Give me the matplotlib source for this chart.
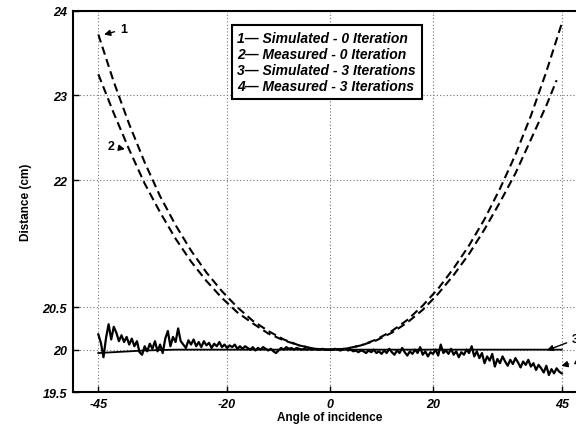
import numpy as np
import matplotlib
matplotlib.use("Agg")
import matplotlib.pyplot as plt

plt.rcParams['font.family'] = ['Liberation Sans', 'DejaVu Sans']

# Curve 1 - simulated, 0 iteration
sim0_x = [-45, -42, -39, -36, -33, -30, -27, -24, -21, -18, -15, -12, -9, -6, -3, 0,
          3, 6, 9, 12, 15, 18, 21, 24, 27, 30, 33, 36, 39, 42, 45]
sim0_y = [23.72, 23.16, 22.66, 22.21, 21.81, 21.47, 21.17, 20.91, 20.69, 20.50, 20.34,
          20.22, 20.12, 20.05, 20.01, 20.00,
          20.01, 20.05, 20.12, 20.22, 20.35, 20.52, 20.72, 20.96, 21.23, 21.54, 21.90,
          22.30, 22.76, 23.28, 23.85]

# Curve 2 - measured, 0 iteration
meas0_x = [-45, -42, -39, -36, -33, -30, -27, -24, -21, -18, -15, -12, -9, -6, -3, 0,
           3, 6, 9, 12, 15, 18, 21, 24, 27, 30, 33, 36, 39, 42, 44]
meas0_y = [23.25, 22.79, 22.36, 21.96, 21.62, 21.31, 21.04, 20.81, 20.61, 20.44, 20.31,
           20.19, 20.11, 20.05, 20.01, 20.00,
           20.01, 20.05, 20.11, 20.20, 20.32, 20.47, 20.66, 20.88, 21.13, 21.42, 21.74,
           22.08, 22.48, 22.88, 23.18]

# Curve 3 - simulated, 3 iterations
sim3_x = [-45, -42, -39, -36, -30, -20, -10, 0, 10, 20, 30, 40, 45]
sim3_y = [19.96, 19.97, 19.98, 19.99, 20.0, 20.0, 20.0, 20.0, 20.0, 20.0, 20.0, 20.0, 20.0]

# Curve 4 - measured, 3 iterations (every 0.5 degree from -45 to 45)
meas3_y = [
    20.18, 20.08, 19.91, 20.14, 20.30, 20.12, 20.27, 20.20, 20.10, 20.17,
    20.09, 20.15, 20.06, 20.13, 20.04, 20.10, 19.97, 19.94, 20.04, 19.98,
    20.07, 20.01, 20.10, 19.98, 20.06, 19.96, 20.13, 20.22, 20.04, 20.15,
    20.09, 20.25, 20.10, 20.06, 20.02, 20.11, 20.06, 20.12, 20.04, 20.09,
    20.03, 20.10, 20.05, 20.08, 20.02, 20.07, 20.04, 20.09, 20.03, 20.06,
    20.02, 20.05, 20.03, 20.06, 20.01, 20.04, 20.01, 20.04, 20.02, 20.00,
    20.03, 19.99, 20.02, 20.00, 20.03, 20.01, 19.99, 20.01, 19.98, 19.96,
    19.99, 20.02, 20.00, 20.03, 20.01, 20.02, 20.00, 20.02, 20.01, 20.00,
    20.01, 20.00, 20.01, 20.00, 20.01, 20.00, 20.00, 20.01, 20.00, 20.00,
    20.00, 20.00, 20.01, 20.00, 19.99, 20.00, 20.01, 19.99, 20.00, 19.98,
    19.99, 19.97, 19.99, 19.98, 19.96, 19.99, 19.97, 20.00, 19.96, 19.98,
    19.95, 19.99, 19.96, 20.01, 19.97, 19.94, 19.99, 19.96, 20.02, 19.97,
    19.93, 19.98, 19.95, 20.00, 19.96, 20.03, 19.94, 19.98, 19.92, 19.97,
    19.95, 20.00, 19.93, 20.06, 19.96, 19.99, 19.95, 20.01, 19.94, 19.98,
    19.91, 19.97, 19.94, 20.00, 19.96, 20.04, 19.92, 19.98, 19.90, 19.96,
    19.84, 19.92, 19.87, 19.95, 19.80, 19.89, 19.84, 19.92, 19.86, 19.81,
    19.88, 19.83, 19.90, 19.85, 19.79, 19.86, 19.82, 19.88, 19.80, 19.84,
    19.76, 19.82, 19.78, 19.73, 19.81, 19.70, 19.77, 19.72, 19.78, 19.74,
    19.72,
]
meas3_x = np.arange(-45, 45.01, 0.5)

x_ticks = [-45, -20, 0, 20, 45]
y_ticks = [19.5, 20, 20.5, 22, 23, 24]
legend_lines = [
    "1\u2014 Simulated - 0 Iteration",
    "2\u2014 Measured - 0 Iteration",
    "3\u2014 Simulated - 3 Iterations",
    "4\u2014 Measured - 3 Iterations",
]

fig = plt.figure(figsize=(5.76, 4.27), dpi=100)
ax = fig.add_axes([0.126, 0.0796, 0.894, 0.893])

ax.plot(sim0_x, sim0_y, color='black', lw=1.5, linestyle=(0, (4, 2.2)))
ax.plot(meas0_x, meas0_y, color='black', lw=1.5, linestyle=(0, (4, 2.2)))
ax.plot(sim3_x, sim3_y, color='black', lw=1.3)
ax.plot(meas3_x, meas3_y, color='black', lw=1.6)

ax.set_xlim(-50, 50)
ax.set_ylim(19.5, 24)
ax.set_xticks(x_ticks)
ax.set_yticks(y_ticks)
ax.set_xticklabels([str(t) for t in x_ticks])
ax.set_yticklabels(['19.5', '20', '20.5', '22', '23', '24'])
for lab in ax.get_xticklabels() + ax.get_yticklabels():
    lab.set_fontweight('bold')
    lab.set_fontstyle('italic')
    lab.set_fontsize(9)
ax.tick_params(direction='in', length=4, width=1, pad=4)
ax.grid(True, color='0.45', linestyle=(0, (1, 2)), lw=0.8)
for s in ax.spines.values():
    s.set_linewidth(1.5)

ax.set_xlabel("Angle of incidence", fontsize=8.5, fontweight='bold')
ax.xaxis.set_label_coords(0.5, -0.049)
ax.set_ylabel("Distance (cm)", fontsize=8.5, fontweight='bold')
ax.yaxis.set_label_coords(-0.079, 0.5)

# legend box
ax.text(0.320, 0.948, "\n".join(legend_lines), transform=ax.transAxes,
        ha='left', va='top', fontsize=10, fontweight='bold', fontstyle='italic',
        linespacing=1.2,
        bbox=dict(boxstyle='square,pad=0.4', fc='white', ec='black', lw=1.5))

arrow = dict(arrowstyle='-|>', color='black', lw=1, mutation_scale=9)
ax.annotate("1", xy=(-44.4, 23.71), xytext=(-40.8, 23.78), fontsize=9,
            fontweight='bold', va='center', arrowprops=arrow)
ax.annotate("2", xy=(-39.3, 22.36), xytext=(-43.2, 22.40), fontsize=9,
            fontweight='bold', va='center', arrowprops=arrow)
ax.annotate("3", xy=(41.6, 19.98), xytext=(47.0, 20.12), fontsize=9,
            fontweight='bold', va='center', arrowprops=arrow, annotation_clip=False)
ax.annotate("4", xy=(44.4, 19.80), xytext=(47.4, 19.86), fontsize=9,
            fontweight='bold', va='center', arrowprops=arrow, annotation_clip=False)

fig.savefig("out.png", dpi=100)
